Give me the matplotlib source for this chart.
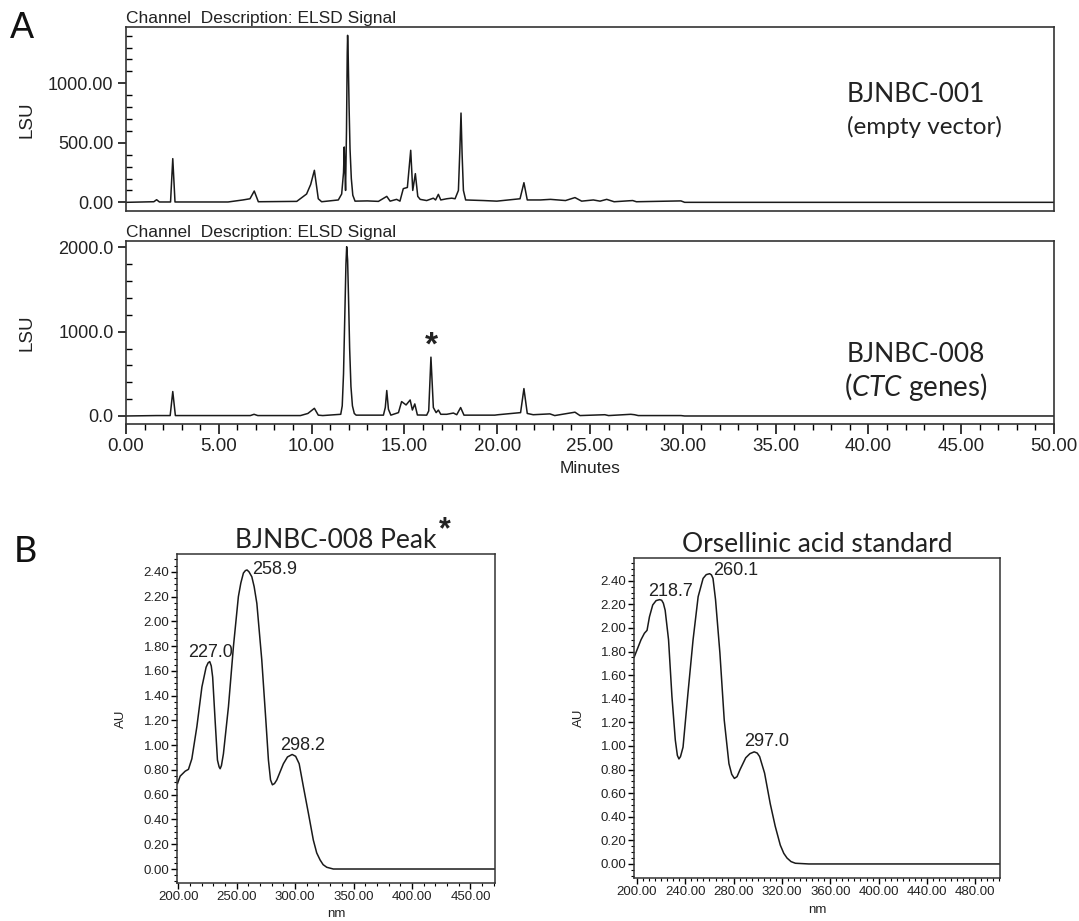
import matplotlib
matplotlib.use('Agg')
import matplotlib.pyplot as plt
from matplotlib.ticker import MultipleLocator, FormatStrFormatter

# ---- Panel A: ELSD chromatograms (minutes, LSU) ----
elsd001_min = [0.00, 1.50, 1.65, 1.80, 2.40, 2.52, 2.64, 5.50, 6.30, 6.68, 6.91, 7.13,
               9.20, 9.73, 9.95, 10.15, 10.36, 10.54, 11.44, 11.62, 11.72, 11.76, 11.80, 11.83,
               11.88, 11.92, 11.94, 11.97, 12.02, 12.07, 12.14, 12.22, 12.34,
               13.00, 13.60, 14.05, 14.23, 14.58, 14.76, 14.94, 15.16, 15.34, 15.45, 15.59, 15.72, 15.85,
               16.20, 16.56, 16.68, 16.83, 16.96, 17.28, 17.55, 17.73, 17.91, 17.99, 18.05, 18.11, 18.18, 18.30,
               19.26, 19.98, 21.23, 21.44, 21.62, 22.33, 22.87, 23.68, 24.19, 24.55, 25.18, 25.54,
               25.90, 26.30, 27.30, 27.50, 29.90, 30.10, 50.00]
elsd001_lsu = [0, 5, 22, 3, 3, 367, 3, 3, 20, 30, 95, 5,
               8, 70, 150, 269, 30, 5, 20, 70, 250, 465, 250, 100,
               600, 1250, 1403, 1250, 800, 450, 200, 60, 10,
               12, 8, 50, 10, 25, 10, 115, 125, 437, 100, 241, 50, 25,
               15, 35, 20, 67, 20, 30, 35, 30, 100, 450, 750, 400, 100, 20,
               15, 10, 30, 165, 20, 20, 25, 15, 40, 10, 20, 10,
               25, 5, 15, 5, 12, 0, 0]

elsd008_min = [0.00, 1.65, 2.38, 2.52, 2.66, 6.70, 6.90, 7.10, 9.40, 9.80, 10.15, 10.36, 10.60,
               11.57, 11.65, 11.72, 11.80, 11.85, 11.89, 11.94, 11.99, 12.05, 12.12, 12.20, 12.30, 12.40,
               13.87, 13.97, 14.05, 14.14, 14.27,
               14.68, 14.85, 15.09, 15.31, 15.43, 15.56, 15.70, 16.20, 16.31, 16.43, 16.56, 16.71, 16.83, 16.96,
               17.28, 17.64, 17.82, 18.03, 18.21, 19.87, 20.05, 21.26, 21.44, 21.62, 21.94, 22.84, 23.10,
               24.19, 24.46, 25.80, 26.00, 27.20, 27.40, 27.60, 29.90, 30.10, 50.00]
elsd008_lsu = [0, 5, 5, 290, 5, 5, 20, 5, 5, 30, 91, 10, 5,
               20, 120, 500, 1300, 1800, 2008, 1850, 1400, 800, 350, 120, 30, 10,
               10, 100, 302, 80, 10,
               40, 171, 131, 190, 71, 143, 12, 10, 60, 698, 100, 40, 70, 20,
               20, 35, 15, 100, 10, 10, 15, 40, 325, 30, 15, 25, 5,
               45, 5, 15, 5, 20, 15, 5, 5, 0, 0]
star_min, star_lsu = 16.45, 830

# ---- Panel B: UV spectra (nm, AU) ----
peak_nm = [199.4, 201.7, 206.0, 208.8, 211.7, 216.0, 220.3, 223.9, 225.6, 227.0, 228.3, 229.5, 231.6,
           233.6, 235.0, 235.9, 237.0, 238.7, 243.0, 247.3, 251.5, 253.6, 255.8, 257.5, 258.9, 260.6,
           263.0, 265.0, 267.3, 271.5, 275.0, 277.2, 279.0, 280.6, 282.4, 284.4, 290.0, 293.5, 297.5,
           300.5, 303.5, 307.1, 311.4, 315.6, 318.5, 321.4, 324.0, 327.1, 332.7, 360.0, 420.0, 471.0]
peak_au = [0.69, 0.75, 0.79, 0.805, 0.89, 1.15, 1.47, 1.63, 1.665, 1.675, 1.64, 1.55, 1.20,
           0.88, 0.825, 0.81, 0.835, 0.93, 1.31, 1.80, 2.20, 2.31, 2.39, 2.41, 2.415, 2.40,
           2.36, 2.28, 2.145, 1.69, 1.20, 0.88, 0.72, 0.68, 0.69, 0.72, 0.85, 0.905, 0.925,
           0.91, 0.85, 0.665, 0.45, 0.234, 0.13, 0.073, 0.035, 0.014, 0.0, 0.0, 0.0, 0.0]
peak_labels = ['227.0', '258.9', '298.2']
peak_label_x = [208.5, 263.2, 287.2]
peak_label_y = [1.745, 2.415, 1.00]

std_nm = [197.8, 200.6, 203.3, 206.1, 208.3, 210.3, 213.0, 215.8, 218.7, 220.4, 221.8, 223.3, 226.1,
          228.9, 231.7, 233.4, 234.7, 236.0, 238.1, 242.2, 246.4, 250.6, 254.7, 257.3, 260.1, 261.6,
          262.9, 265.0, 268.6, 272.2, 276.1, 278.4, 280.6, 282.8, 285.3, 290.0, 293.5, 297.0, 299.5,
          301.5, 305.6, 310.3, 314.4, 318.6, 321.5, 324.2, 327.5, 331.1, 342.2, 400.0, 500.0]
std_au = [1.757, 1.83, 1.90, 1.955, 1.98, 2.095, 2.195, 2.232, 2.24, 2.235, 2.21, 2.15, 1.90,
          1.42, 1.05, 0.92, 0.89, 0.91, 0.99, 1.45, 1.90, 2.265, 2.42, 2.452, 2.46, 2.45,
          2.42, 2.24, 1.79, 1.22, 0.85, 0.76, 0.725, 0.74, 0.80, 0.90, 0.935, 0.95, 0.94,
          0.91, 0.77, 0.51, 0.32, 0.16, 0.09, 0.05, 0.02, 0.006, 0.0, 0.0, 0.0]
std_labels = ['218.7', '260.1', '297.0']
std_label_x = [209.2, 263.3, 288.3]
std_label_y = [2.305, 2.49, 1.034]

plt.rcParams['font.family'] = ['Liberation Sans', 'DejaVu Sans']
plt.rcParams['mathtext.fontset'] = 'custom'
plt.rcParams['mathtext.it'] = 'Lato:italic'
plt.rcParams['mathtext.rm'] = 'Lato'

TXT = '#222222'
LINE = '#1a1a1a'
W, H = 1079, 921

fig = plt.figure(figsize=(W / 100, H / 100), dpi=100)


def add_ax(left, top, right, bottom):
    # axes box given in pixel coordinates of the figure
    return fig.add_axes([left / W, 1 - bottom / H, (right - left) / W, (bottom - top) / H])


def style_spines(ax, lw=1.2):
    for s in ax.spines.values():
        s.set_linewidth(lw)
        s.set_color('#333333')


# ========== A ==========
ax1 = add_ax(126, 27, 1054, 211.5)
ax2 = add_ax(126, 241, 1054, 424.5)

ax1.plot(elsd001_min, elsd001_lsu, color=LINE, lw=1.1)
ax2.plot(elsd008_min, elsd008_lsu, color=LINE, lw=1.1)

ax1.set_xlim(0, 50)
ax1.set_ylim(-77, 1473)
ax2.set_xlim(0, 50)
ax2.set_ylim(-101, 2076)

ax1.yaxis.set_major_locator(MultipleLocator(500))
ax1.yaxis.set_minor_locator(MultipleLocator(100))
ax1.yaxis.set_major_formatter(FormatStrFormatter('%.2f'))
ax2.yaxis.set_major_locator(MultipleLocator(1000))
ax2.yaxis.set_minor_locator(MultipleLocator(200))
ax2.yaxis.set_major_formatter(FormatStrFormatter('%.1f'))
ax2.xaxis.set_major_locator(MultipleLocator(5))
ax2.xaxis.set_minor_locator(MultipleLocator(1))
ax2.xaxis.set_major_formatter(FormatStrFormatter('%.2f'))

for ax in (ax1, ax2):
    style_spines(ax)
    ax.tick_params(axis='y', which='major', direction='out', length=6, width=1.1,
                   labelsize=13, labelcolor=TXT, pad=3)
    ax.tick_params(axis='y', which='minor', direction='in', length=4, width=1.0)
    ax.set_ylabel('LSU', fontsize=13.5, color=TXT)
    ax.yaxis.set_label_coords(-0.098, 0.5)
    ax.text(0, 1.004, 'Channel  Description: ELSD Signal', transform=ax.transAxes,
            ha='left', va='bottom', fontsize=12.5, color=TXT)

ax1.tick_params(axis='x', which='both', bottom=False, labelbottom=False)
ax2.tick_params(axis='x', which='major', direction='out', length=7, width=1.1,
                labelsize=13.5, labelcolor=TXT, pad=3)
ax2.tick_params(axis='x', which='minor', direction='out', length=4, width=1.0)
ax2.set_xlabel('Minutes', fontsize=12.5, color=TXT)
ax2.xaxis.set_label_coords(0.5, -0.2)

ax1.text(38.85, 902, 'BJNBC-001', fontfamily='Lato', fontsize=19, color=TXT, ha='left', va='center')
ax1.text(38.85, 632, '(empty vector)', fontfamily='Lato', fontsize=17.5, color=TXT, ha='left', va='center')
ax2.text(38.85, 724, 'BJNBC-008', fontfamily='Lato', fontsize=19, color=TXT, ha='left', va='center')
ax2.text(38.7, 344, r'($\mathit{CTC}$ genes)', fontfamily='Lato', fontsize=20, color=TXT,
         ha='left', va='center')
ax2.text(star_min, star_lsu, '*', fontsize=24, fontweight='bold', color=TXT, ha='center', va='center')

fig.text(10 / W, 1 - 28 / H, 'A', fontsize=26, color='#111111', ha='left', va='center')

# ========== B ==========
ax3 = add_ax(177, 554, 495, 883)
ax4 = add_ax(634, 558, 1000, 878)

ax3.plot(peak_nm, peak_au, color=LINE, lw=1.1)
ax4.plot(std_nm, std_au, color=LINE, lw=1.1)

ax3.set_xlim(199, 471)
ax3.set_ylim(-0.113, 2.544)
ax4.set_xlim(197.5, 500.5)
ax4.set_ylim(-0.119, 2.593)

ax3.xaxis.set_major_locator(MultipleLocator(50))
ax3.xaxis.set_minor_locator(MultipleLocator(10))
ax4.xaxis.set_major_locator(MultipleLocator(40))
ax4.xaxis.set_minor_locator(MultipleLocator(5))

for ax in (ax3, ax4):
    style_spines(ax, 1.1)
    ax.yaxis.set_major_locator(MultipleLocator(0.2))
    ax.yaxis.set_minor_locator(MultipleLocator(0.05))
    ax.yaxis.set_major_formatter(FormatStrFormatter('%.2f'))
    ax.xaxis.set_major_formatter(FormatStrFormatter('%.2f'))
    ax.tick_params(which='major', direction='out', length=4, width=1.0,
                   labelsize=9.5, labelcolor=TXT, pad=1.5)
    ax.tick_params(which='minor', direction='out', length=2.5, width=0.8)
    ax.set_ylabel('AU', fontsize=9.5, color=TXT)
    ax.set_xlabel('nm', fontsize=9.5, color=TXT)

ax3.yaxis.set_label_coords(-0.157, 0.5)
ax4.yaxis.set_label_coords(-0.134, 0.5)
ax3.xaxis.set_label_coords(0.5, -0.075)
ax4.xaxis.set_label_coords(0.5, -0.08)

for lab, x, y in zip(peak_labels, peak_label_x, peak_label_y):
    ax3.text(x, y, lab, fontsize=13, color=TXT, ha='left', va='center')
for lab, x, y in zip(std_labels, std_label_x, std_label_y):
    ax4.text(x, y, lab, fontsize=13, color=TXT, ha='left', va='center')

ax3.set_title('BJNBC-008 Peak', fontfamily='Lato', fontsize=19, color=TXT, pad=4)
ax4.set_title('Orsellinic acid standard', fontfamily='Lato', fontsize=19, color=TXT, pad=4)
fig.text(445 / W, 1 - 530 / H, '*', fontsize=22, fontweight='bold', color=TXT, ha='center', va='center')

fig.text(14 / W, 1 - 551 / H, 'B', fontfamily='Lato', fontsize=26, color='#111111', ha='left', va='center')

fig.savefig('out.png', dpi=100, facecolor='white')
